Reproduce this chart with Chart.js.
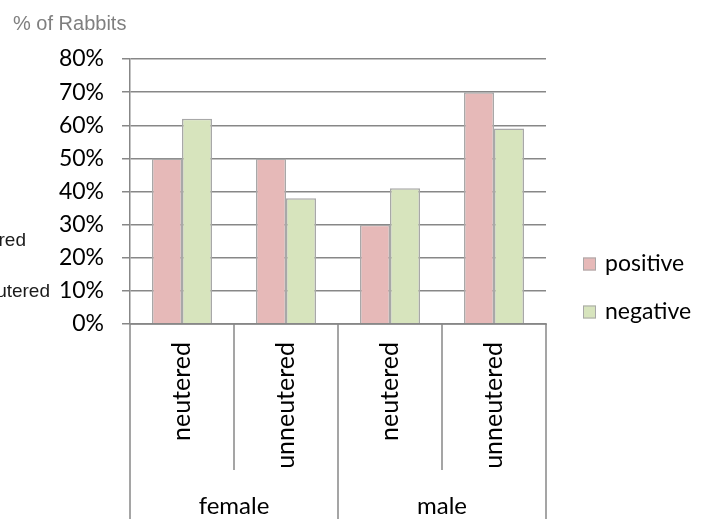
<!DOCTYPE html>
<html>
<head>
<meta charset="utf-8">
<script src="https://cdn.jsdelivr.net/npm/chart.js@4"></script>
<style>
  html, body { margin: 0; padding: 0; background: #ffffff; }
  #wrap { width: 709px; height: 519px; position: relative; }
</style>
</head>
<body>
<div id="wrap"><canvas id="chart" width="709" height="519"></canvas></div>
<script>
// Rabbits by sex and neuter status, share testing positive / negative
const groups = ['female', 'male'];
const subCategories = ['neutered', 'unneutered', 'neutered', 'unneutered'];
const positiveValues = [50, 50, 30, 70];
const negativeValues = [62, 38, 41, 59];
const seriesNames = ['positive', 'negative'];
const yTicks = [0, 10, 20, 30, 40, 50, 60, 70, 80];
const sideLabels = ['neutered', 'unneutered'];
const chartTitle = '% of Rabbits';

const GRID = '#878787';
const BAR_BORDER = '#a8a8a8';
const COLORS = ['#e6b9b8', '#d7e4bd'];
const LABEL_FONT = 'Lato, "DejaVu Sans", sans-serif';
const SMALL_FONT = '"Liberation Sans", Arial, sans-serif';

// Group labels, category separators, legend and side texts
const decorations = {
  id: 'decorations',
  afterDraw(chart) {
    const ctx = chart.ctx;
    const area = chart.chartArea;
    const x = chart.scales.x;
    const n = subCategories.length;
    const step = (area.right - area.left) / n;
    const H = chart.height;

    ctx.save();
    ctx.strokeStyle = GRID;
    ctx.lineWidth = 1.5;
    // x axis line
    ctx.beginPath();
    ctx.moveTo(area.left, Math.round(area.bottom));
    ctx.lineTo(area.right + 1, Math.round(area.bottom));
    ctx.stroke();
    // separators between categories
    for (let i = 0; i <= n; i++) {
      const px = Math.round(area.left + i * step);
      const isGroupEdge = (i % 2 === 0);
      ctx.beginPath();
      ctx.moveTo(px, area.bottom);
      ctx.lineTo(px, isGroupEdge ? H : area.bottom + 146);
      ctx.stroke();
    }
    // group labels
    ctx.fillStyle = '#000000';
    ctx.font = '24px ' + LABEL_FONT;
    ctx.textAlign = 'center';
    ctx.textBaseline = 'alphabetic';
    groups.forEach((g, gi) => {
      const cx = (x.getPixelForValue(gi * 2) + x.getPixelForValue(gi * 2 + 1)) / 2;
      ctx.fillText(g, cx, 514);
    });

    // legend
    const legendX = 583, legendY = [264, 312];
    ctx.lineWidth = 1;
    seriesNames.forEach((name, i) => {
      const ds = chart.data.datasets[i];
      ctx.fillStyle = ds.backgroundColor;
      ctx.fillRect(legendX, legendY[i] - 6.5, 13, 13);
      ctx.strokeStyle = BAR_BORDER;
      ctx.strokeRect(legendX + 0.5, legendY[i] - 6, 12, 12);
      ctx.fillStyle = '#000000';
      ctx.textAlign = 'left';
      ctx.textBaseline = 'middle';
      ctx.font = '23px ' + LABEL_FONT;
      ctx.fillText(name, 605, legendY[i]);
    });

    // title
    ctx.fillStyle = '#7f7f7f';
    ctx.font = '20px ' + SMALL_FONT;
    ctx.textAlign = 'left';
    ctx.textBaseline = 'alphabetic';
    ctx.fillText(chartTitle, 13, 30);

    // side labels, partly outside the canvas
    ctx.fillStyle = '#1a1a1a';
    ctx.font = '19px ' + SMALL_FONT;
    ctx.textAlign = 'right';
    ctx.fillText(sideLabels[0], 26, 246);
    ctx.fillText(sideLabels[1], 50, 297);
    ctx.restore();
  }
};

new Chart(document.getElementById('chart'), {
  type: 'bar',
  data: {
    labels: subCategories,
    datasets: [
      {
        label: seriesNames[0],
        data: positiveValues,
        backgroundColor: COLORS[0],
        borderColor: BAR_BORDER,
        borderWidth: 1.5,
        categoryPercentage: 0.577,
        barPercentage: 1.0
      },
      {
        label: seriesNames[1],
        data: negativeValues,
        backgroundColor: COLORS[1],
        borderColor: BAR_BORDER,
        borderWidth: 1.5,
        categoryPercentage: 0.577,
        barPercentage: 1.0
      }
    ]
  },
  options: {
    responsive: false,
    animation: false,
    devicePixelRatio: 1,
    layout: { padding: { left: 0, top: 59, right: 163, bottom: 0 } },
    plugins: {
      legend: { display: false },
      title: { display: false },
      tooltip: { enabled: false }
    },
    scales: {
      x: {
        position: 'bottom',
        offset: true,
        grid: { display: false, drawTicks: false },
        border: { display: false },
        ticks: {
          autoSkip: false,
          minRotation: 90,
          maxRotation: 90,
          padding: 18,
          color: '#000000',
          font: { family: LABEL_FONT, size: 25 }
        },
        afterFit(scale) { scale.height = 195; }
      },
      y: {
        min: 0,
        max: 80,
        afterBuildTicks(scale) { scale.ticks = yTicks.map(v => ({ value: v })); },
        grid: { color: GRID, lineWidth: 1.5, tickLength: 8, drawTicks: true },
        border: { display: true, color: GRID, width: 1.5 },
        ticks: {
          padding: 18,
          color: '#000000',
          font: { family: LABEL_FONT, size: 23 },
          callback: v => v + '%'
        },
        afterFit(scale) { scale.width = 130; }
      }
    }
  },
  plugins: [decorations]
});
</script>
</body>
</html>
